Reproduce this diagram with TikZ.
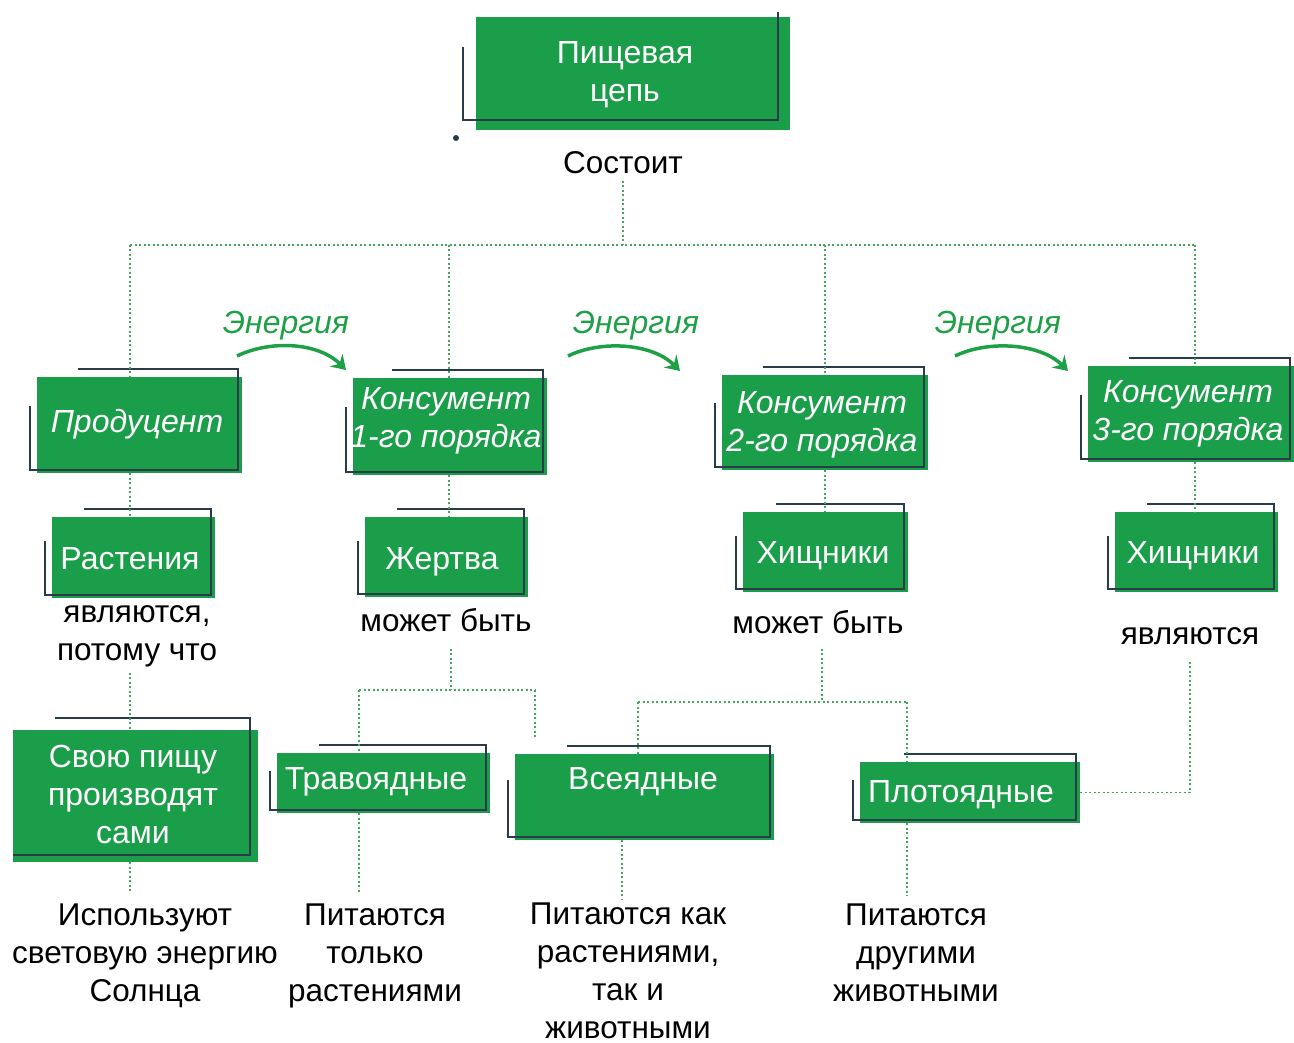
\documentclass[tikz,border=0pt]{standalone}
\usepackage{fontspec}
\setmainfont{Liberation Sans}
\usetikzlibrary{calc,arrows.meta}
\definecolor{gboxc}{RGB}{27,158,74}
\definecolor{frc}{RGB}{42,60,72}
\definecolor{dotc}{RGB}{70,165,95}
\definecolor{enc}{RGB}{30,160,70}
\tikzset{
 gbox/.style={fill=gboxc, inner sep=0pt},
 oneline/.style={text height=23pt, text depth=7pt},
 btxt/.style={text=white, inner sep=0pt, align=center, font=\fontsize{32}{38}\selectfont},
 itxt/.style={btxt, font=\fontsize{32}{38}\selectfont\itshape},
 frame/.style={draw=frc, line width=2.2pt},
 dl/.style={draw=dotc, line width=1.6pt, dash pattern=on 2pt off 2.5pt},
 txt/.style={text=black, align=center, inner sep=0pt, font=\fontsize{31.5}{38}\selectfont},
 en/.style={text=enc, inner sep=0pt, oneline, font=\fontsize{32}{38}\selectfont\itshape},
 earrow/.style={draw=enc, line width=3.5pt, -{Stealth[length=14pt,width=18pt,inset=5pt]}},
}
\newcommand\gfrm[1]{\draw[frame] ($(#1.north west)!0.3!(#1.south west)+(-7,0)$) |- ($(#1.south east)+(-4,-3)$) |- ($(#1.north west)!0.2!(#1.north east)+(0,-8)$);}
\begin{document}
\begin{tikzpicture}[x=1pt,y=-1pt]
\useasboundingbox[fill=white] (0,0) rectangle (1294,1043);

% boxes
\node[gbox, minimum width=314pt, minimum height=113pt] (top) at (633,73.5) {};
\node[gbox, minimum width=205pt, minimum height=96pt] (prod) at (139.5,425) {};
\node[gbox, minimum width=194pt, minimum height=97pt] (k1) at (450,426.5) {};
\node[gbox, minimum width=206pt, minimum height=95pt] (k2) at (825,422.5) {};
\node[gbox, minimum width=206pt, minimum height=96pt] (k3) at (1191,414) {};
\node[gbox, minimum width=163pt, minimum height=81pt] (rast) at (133.5,557.5) {};
\node[gbox, minimum width=163pt, minimum height=80pt] (zhert) at (446.5,557) {};
\node[gbox, minimum width=165pt, minimum height=80pt] (hish2) at (825.5,552) {};
\node[gbox, minimum width=163pt, minimum height=80pt] (hish3) at (1196.5,552) {};
\node[gbox, minimum width=245pt, minimum height=132pt] (svoy) at (135.5,796) {};
\node[gbox, minimum width=213pt, minimum height=60pt] (trav) at (383.5,783) {};
\node[gbox, minimum width=259pt, minimum height=86pt] (vse) at (644.5,797) {};
\node[gbox, minimum width=220pt, minimum height=61pt] (plot) at (970,792.5) {};

% frames
\draw[frame] (463,47) -- (463,120) -- (778,120) -- (778,12);
\gfrm{prod}\gfrm{k1}\gfrm{k2}\gfrm{k3}
\gfrm{rast}\gfrm{zhert}\gfrm{hish2}\gfrm{hish3}
\gfrm{trav}\gfrm{vse}\gfrm{plot}
\draw[frame] (55,718) -- (250,718) -- (250,855) -- (13,855);
\fill[frc] (456,138) circle (3pt);

% box texts
\node[btxt] (topt) at (625,74.5) {Пищевая\\цепь};
\node[itxt, oneline] (prodt) at (137,424.5) {Продуцент};
\node[itxt] (k1t) at (446,420.5) {Консумент\\1-го порядка};
\node[itxt] (k2t) at (822,424.5) {Консумент\\2-го порядка};
\node[itxt] (k3t) at (1188,413.5) {Консумент\\3-го порядка};
\node[btxt, oneline] (rastt) at (130,561.5) {Растения};
\node[btxt, oneline] (zhertt) at (442,561.5) {Жертва};
\node[btxt, oneline] (hish2t) at (823,555.5) {Хищники};
\node[btxt, oneline] (hish3t) at (1193,555.5) {Хищники};
\node[btxt] (svoyt) at (133,794.5) {Свою пищу\\производят\\сами};
\node[btxt, oneline] (travt) at (376,781.5) {Травоядные};
\node[btxt, oneline] (vset) at (643,781.5) {Всеядные};
\node[btxt, oneline] (plott) at (961,794.5) {Плотоядные};

% texts
\node[txt, oneline] (sost) at (623,165.5) {Состоит};
\node[txt] (yavl1) at (137,636) {являются,\\потому что};
\node[txt, oneline] (mozh1) at (446,623.5) {может быть};
\node[txt, oneline] (mozh2) at (818,625.5) {может быть};
\node[txt, oneline] (yavl2) at (1190,636.5) {являются};
\node[txt] (t1) at (145,955.5) {Используют\\световую энергию\\Солнца};
\node[txt] (t2) at (375,955.5) {Питаются\\только\\растениями};
\node[txt] (t3) at (628,971) {Питаются как\\растениями,\\так и\\животными};
\node[txt] (t4) at (916,952.5) {Питаются\\другими\\животными};

% energy
\node[en] (e1) at (286,325.5) {Энергия};
\node[en] (e2) at (636,325.5) {Энергия};
\node[en] (e3) at (998,325.5) {Энергия};
\coordinate (a1s) at (237,356); \coordinate (a1e) at (346,370);
\coordinate (a2s) at (568,356); \coordinate (a2e) at (680,371);
\coordinate (a3s) at (955,356); \coordinate (a3e) at (1068,371);
\draw[earrow] (a1s) .. controls (270,340) and (318,342) .. (a1e);
\draw[earrow] (a2s) .. controls (601,340) and (652,343) .. (a2e);
\draw[earrow] (a3s) .. controls (988,340) and (1040,343) .. (a3e);

% dotted connectors
\coordinate (h0) at (623,245);
\coordinate (c1) at (130,245);
\coordinate (c2) at (449,245);
\coordinate (c3) at (825,245);
\coordinate (c4) at (1195,245);
\coordinate (c5) at (622,0);
\draw[dl] (sost.south) -- (h0);
\draw[dl] (c1) -- (c4);
\draw[dl] (c1) -- (c1 |- prod.north);
\draw[dl] (c2) -- (c2 |- k1.north);
\draw[dl] (c3) -- (c3 |- k2.north);
\draw[dl] (c4) -- (c4 |- k3.north);
\draw[dl] (prod.south -| c1) -- (rast.north -| c1);
\draw[dl] (k1.south -| c2) -- (zhert.north -| c2);
\draw[dl] (k2.south -| c3) -- (hish2.north -| c3);
\draw[dl] (k3.south -| c4) -- (hish3.north -| c4);
\draw[dl] ([yshift=-6pt]yavl1.south -| c1) -- (svoy.north -| c1);
\draw[dl] (svoy.south -| c1) -- ([yshift=12pt]t1.north -| c1);

\coordinate (m1) at (451,690);
\coordinate (m1l) at (359,690);
\coordinate (m1r) at (535,690);
\draw[dl] ([yshift=-10pt]mozh1.south -| m1) -- (m1);
\draw[dl] (m1l) -- (m1r);
\draw[dl] (m1l) -- (m1l |- trav.north);
\draw[dl] (m1r) -- ([yshift=16pt]m1r |- vse.north);
\draw[dl] (trav.south -| m1l) -- ([yshift=10pt]t2.north -| m1l);

\coordinate (m2) at (822,702);
\coordinate (m2l) at (638,702);
\coordinate (m2r) at (907,702);
\draw[dl] ([yshift=-8pt]mozh2.south -| m2) -- (m2);
\draw[dl] (m2l) -- (m2r);
\draw[dl] (m2l) -- (m2l |- vse.north);
\draw[dl] (m2r) -- (m2r |- plot.north);
\draw[dl] (vse.south -| c5) -- ([yshift=4pt]t3.north -| c5);
\draw[dl] (plot.south -| m2r) -- ([yshift=8pt]t4.north -| m2r);
\draw[dl] (plot.east) -| ([yshift=-10pt]yavl2.south);
\end{tikzpicture}
\end{document}
